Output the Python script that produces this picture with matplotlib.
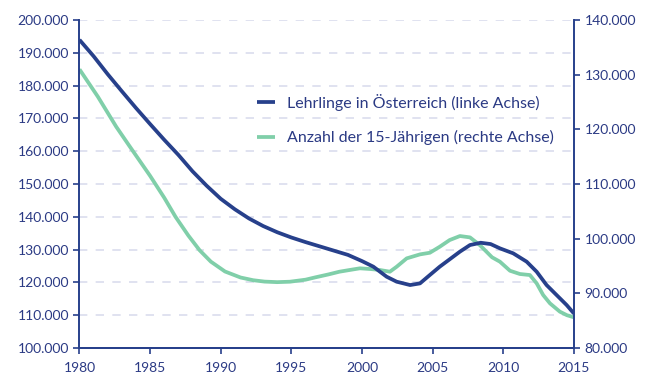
import matplotlib.pyplot as plt
from matplotlib.ticker import FuncFormatter

plt.rcParams['font.family'] = ['Lato', 'DejaVu Sans']

navy = '#27408b'
green = '#80cfa9'
txt = '#2b3a84'

# Lehrlinge in Österreich (linke Achse)
jahre_l = [1980, 1981, 1982, 1983, 1984, 1985, 1986, 1987, 1988, 1989, 1990,
           1991, 1992, 1993, 1994, 1995, 1996, 1997, 1998, 1999, 2000,
           2000.8, 2001.74, 2002.45, 2003.4, 2004.1, 2004.8, 2005.5, 2006.2,
           2006.93, 2007.64, 2008.4, 2009.1, 2009.76, 2010.7, 2011.65,
           2012.36, 2013.06, 2013.77, 2014.48, 2015]
lehrlinge = [194000, 189000, 183500, 178300, 173200, 168300, 163500, 158900,
             153900, 149500, 145500, 142300, 139500, 137200, 135300, 133700,
             132300, 131000, 129700, 128400, 126500, 124800, 121740, 120220,
             119200, 119700, 122260, 124800, 127040, 129390, 131400, 132100,
             131700, 130390, 128870, 126330, 123260, 119200, 116150, 113110,
             110500]

# Anzahl der 15-Jährigen (rechte Achse)
jahre_r = [1980, 1981.3, 1982.6, 1983.5, 1985, 1986, 1986.8, 1987.7, 1988.5,
           1989.3, 1990.3, 1991.4, 1992.3, 1993.1, 1994, 1994.9, 1996, 1996.7,
           1997.6, 1998.4, 1999.3, 1999.85, 2000.6, 2001.27, 2001.97, 2002.45,
           2003.16, 2004.1, 2004.8, 2005.5, 2006.2, 2006.93, 2007.64, 2008.35,
           2009.2, 2009.76, 2010.47, 2011.17, 2011.88, 2012.36, 2012.82,
           2013.3, 2014, 2014.5, 2015]
jaehrige = [131000, 126000, 120500, 117100, 111500, 107500, 104000, 100600,
            97900, 95800, 94000, 92900, 92400, 92150, 92050, 92130, 92500,
            92930, 93450, 93960, 94350, 94580, 94450, 94270, 93960, 94870,
            96400, 97130, 97430, 98530, 99750, 100490, 100240, 98800, 96600,
            95790, 94140, 93540, 93350, 91830, 89690, 88170, 86650, 86000,
            85610]

fmt = FuncFormatter(lambda v, p: f'{int(v):,}'.replace(',', '.'))

fig = plt.figure(figsize=(6.46, 3.87), dpi=100)
ax = fig.add_axes([0.123, 0.1008, 0.7655, 0.8472])
ax2 = ax.twinx()

ax.set_zorder(ax2.get_zorder() + 1)
ax.patch.set_visible(False)

l1, = ax.plot(jahre_l, lehrlinge, color=navy, lw=2.7, solid_capstyle='butt',
              solid_joinstyle='round',
              label='Lehrlinge in Österreich (linke Achse)', zorder=3)
l2, = ax2.plot(jahre_r, jaehrige, color=green, lw=2.7, solid_capstyle='butt',
               solid_joinstyle='round',
               label='Anzahl der 15-Jährigen (rechte Achse)')

ax.set_xlim(1980, 2015)
ax.set_ylim(100000, 200000)
ax2.set_ylim(80000, 140000)
ax.set_xticks(range(1980, 2016, 5))
ax.set_yticks(range(100000, 200001, 10000))
ax2.set_yticks(range(80000, 140001, 10000))
ax.yaxis.set_major_formatter(fmt)
ax2.yaxis.set_major_formatter(fmt)

for a in (ax, ax2):
    a.spines['top'].set_visible(False)
    for s in ('left', 'right', 'bottom'):
        a.spines[s].set_color(navy)
        a.spines[s].set_linewidth(1.4)
    a.tick_params(colors=navy, labelcolor=txt, labelsize=10, length=4, width=1.2)

ax.tick_params(axis='x', pad=6)
ax2.spines['left'].set_visible(False)
ax.spines['right'].set_visible(False)

for v in range(110000, 200001, 10000):
    ax2.axhline(80000 + (v - 100000) * 0.6, color='#dadded', lw=1.2,
                ls=(0, (5, 5)), zorder=0)

ax.legend(handles=[l1, l2], loc='upper left', bbox_to_anchor=(0.359, 0.775),
          frameon=False, fontsize=11.5, labelcolor=txt, handlelength=1.15,
          handletextpad=0.7, labelspacing=1.2, borderpad=0, borderaxespad=0)

fig.savefig('out.png', dpi=100)
